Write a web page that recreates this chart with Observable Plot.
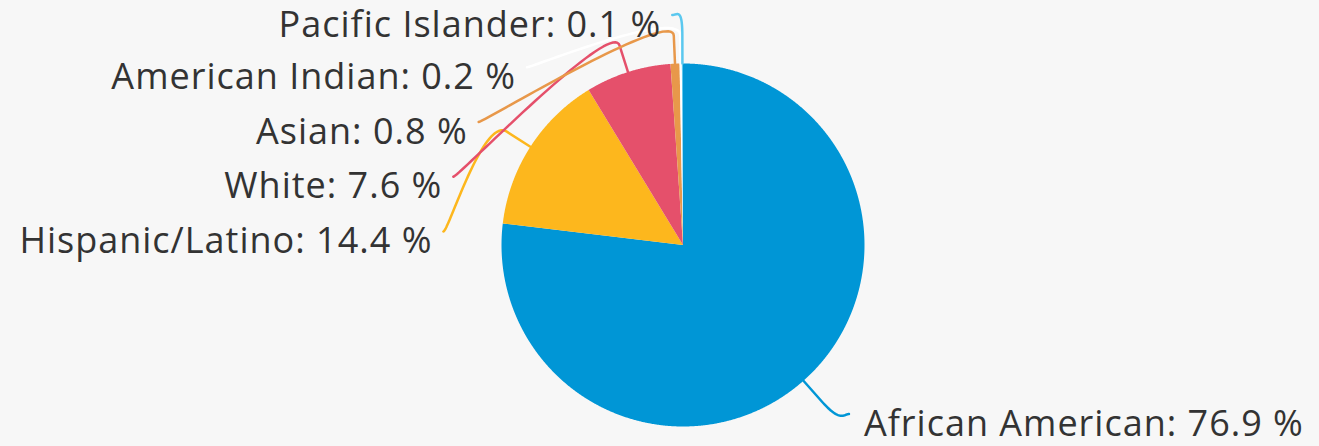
<!DOCTYPE html>
<html><head><meta charset="utf-8">
<script src="https://cdn.jsdelivr.net/npm/d3@7"></script>
<script src="https://cdn.jsdelivr.net/npm/@observablehq/plot@0.6"></script>
<style>html,body{margin:0;padding:0;background:#f7f7f7;overflow:hidden}</style>
</head><body><div id="chart"></div>
<script>
// ---- data ----
const categories = ["African American", "Hispanic/Latino", "White", "Asian", "American Indian", "Pacific Islander"];
const shares = [76.9, 14.4, 7.6, 0.8, 0.2, 0.1];
// ---- style ----
const palette = ["#0096d6", "#fdb71d", "#e5506b", "#e8984a", "#ffffff", "#5bc8ef"];

// ---- layout ----
const W = 1319, H = 446;
const cx = 682.5, cy = 244.5, r = 181.5;
const labelR = 230, breakR = r + 28, pad = 5, tail = 5, gapL = 11, gapR = 15;
const labelTop = 22, spacing = 54.75, connOff = 10, bottomPad = 3;
const fontSize = 36;

const arcs = d3.pie().sort(null).value(d => d)(shares);
const pt = (a, rho) => [cx + rho * Math.sin(a), cy - rho * Math.cos(a)];

// wedges as closed polygons
const wedges = [];
arcs.forEach((a, i) => {
  const n = Math.max(4, Math.ceil((a.endAngle - a.startAngle) / 0.004));
  wedges.push({cat: categories[i], x: cx, y: cy});
  for (let k = 0; k <= n; k++) {
    const ang = a.startAngle + (a.endAngle - a.startAngle) * k / n;
    const [x, y] = pt(ang, r);
    wedges.push({cat: categories[i], x, y});
  }
  wedges.push({cat: categories[i], x: cx, y: cy});
});

// label layout (Highcharts-like)
const items = arcs.map((a, i) => {
  const mid = (a.startAngle + a.endAngle) / 2;
  return {i, cat: categories[i], share: shares[i], mid, left: mid > Math.PI, natY: cy - labelR * Math.cos(mid)};
});
items.filter(d => d.left).sort((a, b) => a.natY - b.natY)
  .forEach((d, k) => { d.labelY = Math.max(d.natY + connOff, labelTop + k * spacing); });
items.filter(d => !d.left).forEach(d => { d.labelY = d.natY + connOff - bottomPad; });

const connectors = [];
const labels = [];
items.forEach(d => {
  const s = d.left ? -1 : 1;
  const connY = d.labelY - connOff;
  const dy = connY - cy;
  const X = cx + s * (Math.sqrt(Math.max(0, labelR * labelR - dy * dy)) + pad);
  const M = [X + s * tail, connY];
  const T = pt(d.mid, r), B = pt(d.mid, breakR);
  const C1 = [X, connY], C2 = [2 * B[0] - T[0], 2 * B[1] - T[1]];
  const N = 40;
  for (let k = 0; k <= N; k++) {
    const t = k / N, u = 1 - t;
    const x = u*u*u*M[0] + 3*u*u*t*C1[0] + 3*u*t*t*C2[0] + t*t*t*B[0];
    const y = u*u*u*M[1] + 3*u*u*t*C1[1] + 3*u*t*t*C2[1] + t*t*t*B[1];
    connectors.push({cat: d.cat, x, y});
  }
  connectors.push({cat: d.cat, x: T[0], y: T[1]});
  labels.push({cat: d.cat, text: `${d.cat}: ${d.share} %`, x: M[0] + s * (d.left ? gapL : gapR), y: d.labelY, anchor: d.left ? "end" : "start"});
});

const chart = Plot.plot({
  width: W, height: H, margin: 0,
  x: {domain: [0, W], range: [0, W], axis: null},
  y: {domain: [0, H], range: [0, H], axis: null},
  color: {domain: categories, range: palette},
  style: {background: "#f7f7f7", fontFamily: "'Open Sans', Roboto, sans-serif", letterSpacing: "1px"},
  marks: [
    Plot.line(wedges, {x: "x", y: "y", z: "cat", fill: "cat", stroke: "none"}),
    Plot.line(connectors, {x: "x", y: "y", z: "cat", stroke: "cat", strokeWidth: 2.5, strokeLinejoin: "round", strokeLinecap: "round"}),
    Plot.text(labels.filter(d => d.anchor === "end"), {x: "x", y: "y", text: "text", textAnchor: "end", fontSize, fill: "#333333"}),
    Plot.text(labels.filter(d => d.anchor === "start"), {x: "x", y: "y", text: "text", textAnchor: "start", fontSize, fill: "#333333"})
  ]
});
document.getElementById("chart").appendChild(chart);
</script>
</body></html>
